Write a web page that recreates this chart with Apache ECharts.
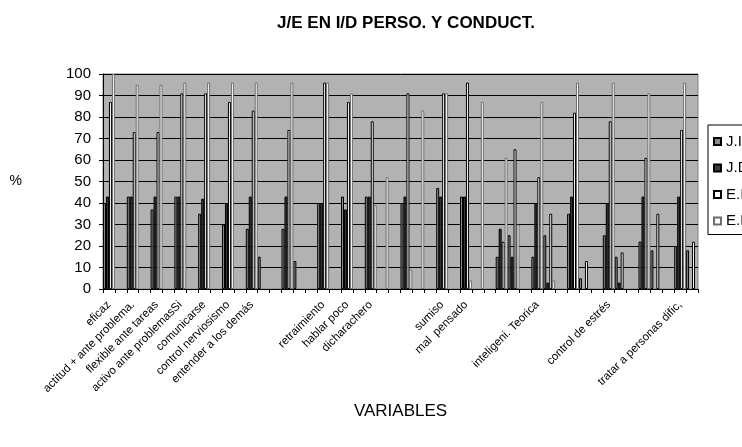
<!DOCTYPE html>
<html>
<head>
<meta charset="utf-8">
<script src="https://cdn.jsdelivr.net/npm/echarts@6/dist/echarts.min.js"></script>
<style>
  html, body { margin: 0; padding: 0; background: #ffffff; }
  #chart { width: 742px; height: 447px; }
</style>
</head>
<body>
<div id="chart"></div>
<script>
// Variable names (only every other one is printed on the axis)
const categories = [
  'eficaz', '',
  'actitud + ante problema.', '',
  'flexible ante tareas', '',
  'activo ante problemasSi', '',
  'comunicarse', '',
  'control nerviosismo', '',
  'entender a los demás', '',
  '', '',
  '', '',
  'retraimiento', '',
  'hablar poco', '',
  'dicharachero', '',
  '', '',
  '', '',
  'sumiso', '',
  'mal  pensado', '',
  '', '',
  '', '',
  'inteligeni. Teorica', '',
  '', '',
  '', '',
  'control de estrés', '',
  '', '',
  '', '',
  'tratar a personas dific,', ''
];

// Percentages per series (null = no bar)
const seriesJI = [40,null,43,null,37,null,43,null,35,null,30,null,28,15,null,28,13,null,40,null,43,null,43,null,null,40,null,null,47,null,43,null,null,15,25,null,15,25,null,35,5,null,25,15,null,22,18,null,20,18];
const seriesJD = [43,null,43,null,43,null,43,null,42,null,40,null,43,null,null,43,null,null,40,null,37,null,43,null,null,43,null,null,43,null,43,null,null,28,15,null,40,3,null,43,null,null,40,3,null,43,null,null,43,null];
const seriesEI = [87,null,73,null,73,null,91,null,91,null,87,null,83,null,null,74,null,null,96,null,87,null,78,null,null,91,null,null,91,null,96,null,null,22,65,null,52,35,null,82,13,null,78,17,null,61,35,null,74,22];
const seriesED = [100,null,95,null,95,null,96,null,96,null,96,null,96,null,null,96,null,null,96,null,91,null,39,52,null,9,83,null,91,null,4,87,null,61,30,null,87,4,null,96,null,null,96,null,null,91,null,null,96,null];

const yTicks = { min: 0, max: 100, step: 10 };

const chart = echarts.init(document.getElementById('chart'), null, { renderer: 'canvas' });

function barSeries(name, data, fill, stroke) {
  return {
    name: name,
    type: 'bar',
    data: data,
    barGap: '0%',
    barCategoryGap: '0%',
    itemStyle: { color: fill, borderColor: stroke, borderWidth: 1 },
    emphasis: { disabled: true },
    animation: false
  };
}

chart.setOption({
  animation: false,
  textStyle: { fontFamily: 'Liberation Sans, Arial, sans-serif', color: '#000' },
  title: {
    text: 'J/E EN I/D PERSO. Y CONDUCT.',
    left: 401,
    textAlign: 'center',
    top: 10,
    textStyle: { fontSize: 17, fontWeight: 'bold', color: '#000', fontFamily: 'Liberation Sans, Arial, sans-serif' }
  },
  legend: {
    orient: 'vertical',
    left: 708,
    top: 125,
    padding: [9, 40, 6, 5],
    itemGap: 11.5,
    itemWidth: 7,
    itemHeight: 7,
    icon: 'rect',
    backgroundColor: '#ffffff',
    borderColor: '#000000',
    borderWidth: 1,
    textStyle: { fontSize: 15, color: '#000', padding: [0, 0, 0, 0] },
    data: ['J.I', 'J.D', 'E.I', 'E.D']
  },
  grid: {
    left: 103,
    right: 44,
    top: 74,
    bottom: 158,
    show: true,
    backgroundColor: '#b2b2b2',
    borderColor: '#808080',
    borderWidth: 1
  },
  xAxis: {
    type: 'category',
    data: categories,
    name: 'VARIABLES',
    nameLocation: 'middle',
    nameGap: 114,
    nameTextStyle: { fontSize: 17, color: '#000' },
    axisLine: { show: true, lineStyle: { color: '#000', width: 1 } },
    axisTick: { show: true, interval: 0, length: 4, lineStyle: { color: '#000' } },
    axisLabel: { interval: 1, rotate: 45, fontSize: 11.5, color: '#000', margin: 14 },
    splitLine: { show: false }
  },
  yAxis: {
    type: 'value',
    min: yTicks.min,
    max: yTicks.max,
    interval: yTicks.step,
    name: '%',
    nameLocation: 'middle',
    nameRotate: 0,
    nameGap: 81,
    nameTextStyle: { fontSize: 14, color: '#000' },
    axisLine: { show: true, lineStyle: { color: '#000', width: 1 } },
    axisTick: { show: true, length: 4, lineStyle: { color: '#000' } },
    axisLabel: { fontSize: 15, color: '#000', margin: 12 },
    splitLine: { show: true, lineStyle: { color: '#000', width: 1 } }
  },
  series: [
    barSeries('J.I', seriesJI, '#8c8c8c', '#000000'),
    barSeries('J.D', seriesJD, '#3a3a3a', '#000000'),
    barSeries('E.I', seriesEI, '#ffffff', '#000000'),
    barSeries('E.D', seriesED, '#ffffff', '#6e6e6e')
  ]
});
</script>
</body>
</html>
